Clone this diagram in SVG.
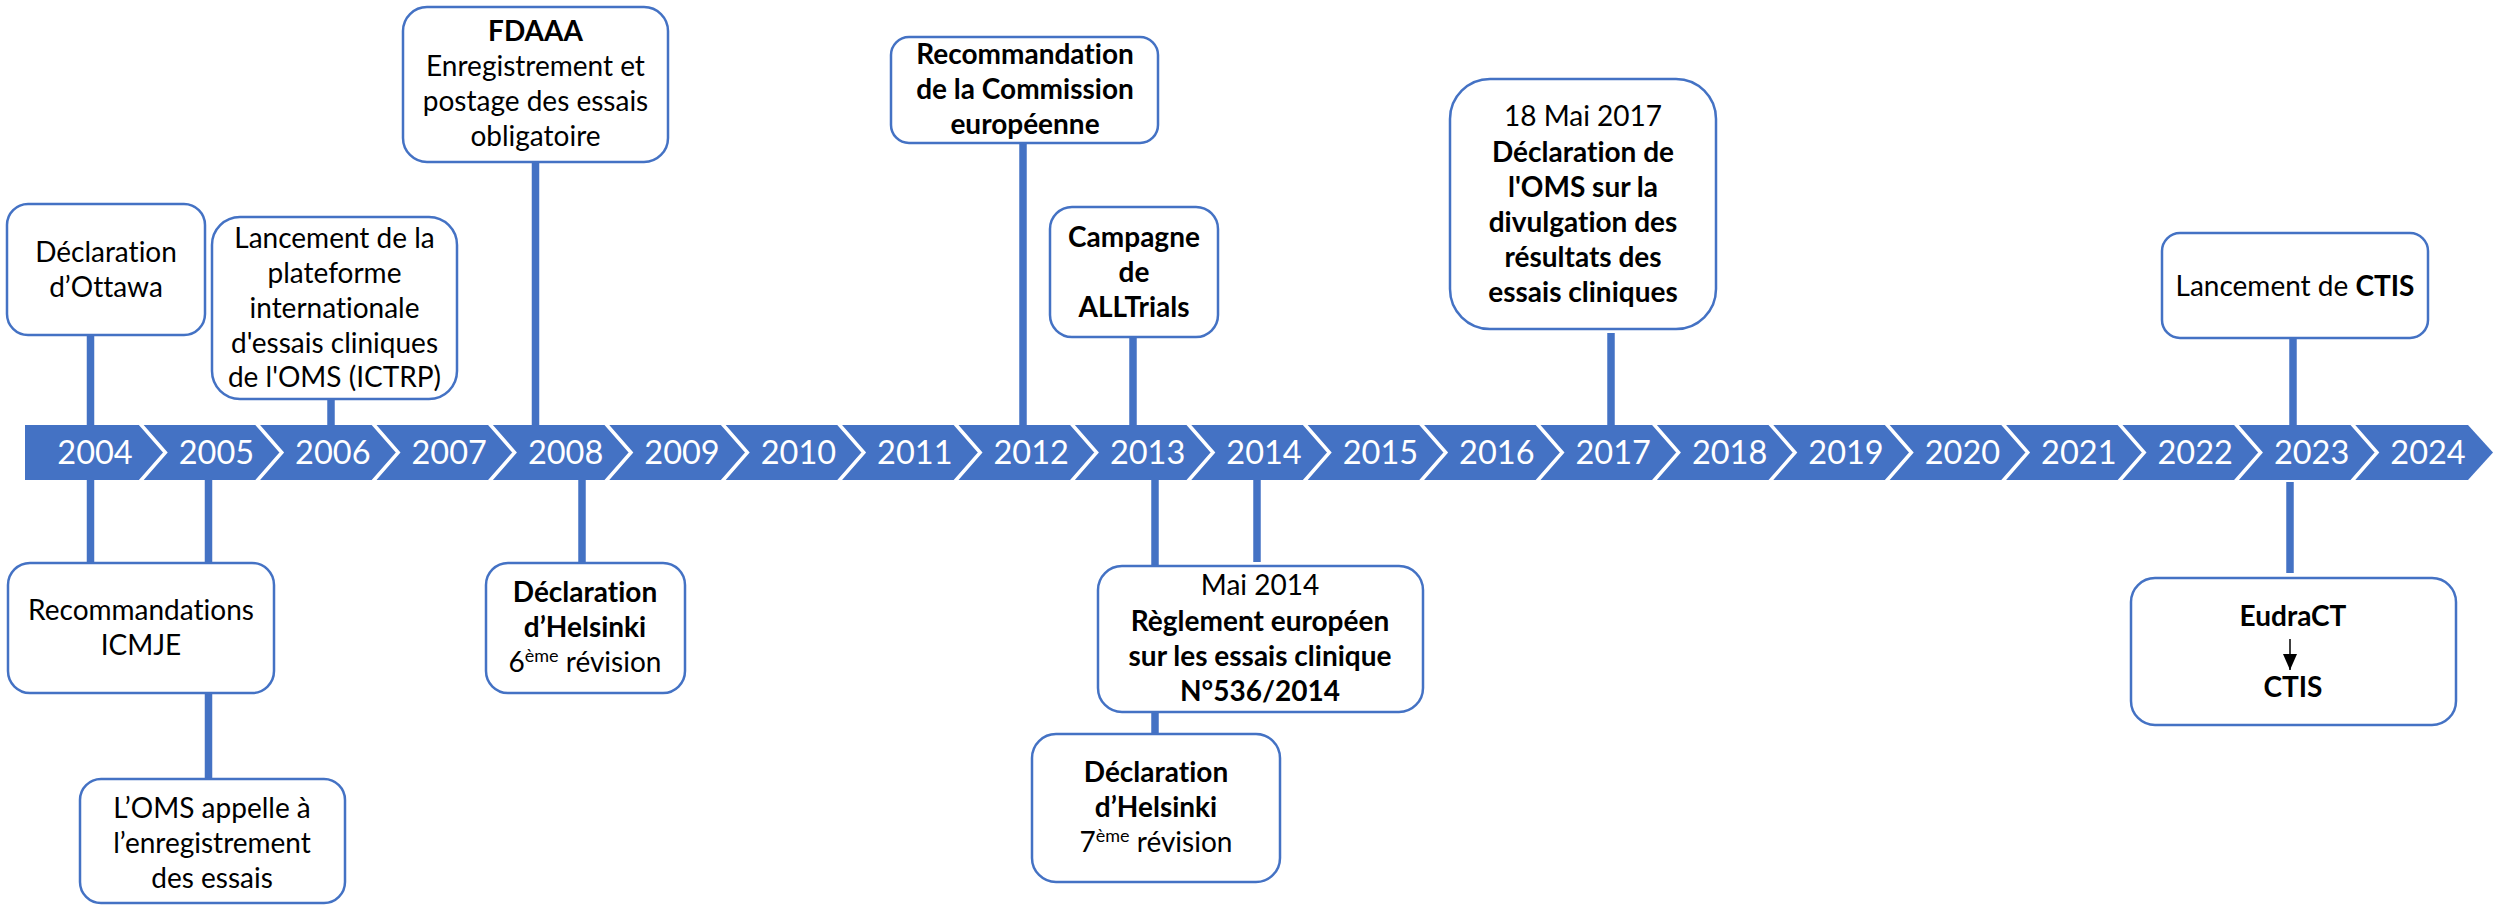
<svg xmlns="http://www.w3.org/2000/svg" width="2503" height="906" viewBox="0 0 2503 906">
<style>
.box{fill:#fff;stroke:#4472C4;stroke-width:2.5}
.conn line{stroke:#4472C4;stroke-width:7.5}
.band{fill:#4472C4}
.sep{fill:none;stroke:#fff;stroke-width:3.5;stroke-linejoin:miter}
.t{font-family:Lato,"Liberation Sans",sans-serif;font-size:28px;fill:#000;text-anchor:middle;font-variant-ligatures:none}
.b{font-weight:bold}
.sup{font-size:18px}
.yr{font-family:Lato,"Liberation Sans",sans-serif;font-size:32.5px;fill:#fff;text-anchor:middle}
</style>
<defs>
<marker id="ah" markerWidth="16" markerHeight="14" refX="16" refY="7" orient="auto" markerUnits="userSpaceOnUse" viewBox="0 0 16 14">
<path d="M0,0 L16,7 L0,14 Z" fill="#000"/>
</marker>
</defs>
<rect width="2503" height="906" fill="#fff"/>

<g id="connectors" class="conn">
<line x1="90.5" y1="335" x2="90.5" y2="426"/>
<line x1="331" y1="399" x2="331" y2="426"/>
<line x1="535.5" y1="162" x2="535.5" y2="426"/>
<line x1="1023" y1="143" x2="1023" y2="426"/>
<line x1="1133" y1="337" x2="1133" y2="426"/>
<line x1="1611" y1="333" x2="1611" y2="426"/>
<line x1="2293" y1="338" x2="2293" y2="426"/>
<line x1="90.5" y1="479" x2="90.5" y2="563"/>
<line x1="208.5" y1="479" x2="208.5" y2="779"/>
<line x1="582" y1="479" x2="582" y2="563"/>
<line x1="1155" y1="479" x2="1155" y2="734"/>
<line x1="1257" y1="479" x2="1257" y2="562"/>
<line x1="2290" y1="482" x2="2290" y2="573"/>
</g>

<g id="timeline">
<polygon class="band" points="25,425 2468,425 2493,452.5 2468,480 25,480"/>
<g id="separators">
<polyline class="sep" points="136.9,420 165.4,452.5 136.9,485"/>
<polyline class="sep" points="253.3,420 281.8,452.5 253.3,485"/>
<polyline class="sep" points="369.7,420 398.2,452.5 369.7,485"/>
<polyline class="sep" points="486.1,420 514.6,452.5 486.1,485"/>
<polyline class="sep" points="602.5,420 631,452.5 602.5,485"/>
<polyline class="sep" points="718.9,420 747.4,452.5 718.9,485"/>
<polyline class="sep" points="835.3,420 863.8,452.5 835.3,485"/>
<polyline class="sep" points="951.7,420 980.2,452.5 951.7,485"/>
<polyline class="sep" points="1068.1,420 1096.6,452.5 1068.1,485"/>
<polyline class="sep" points="1184.5,420 1213,452.5 1184.5,485"/>
<polyline class="sep" points="1300.9,420 1329.4,452.5 1300.9,485"/>
<polyline class="sep" points="1417.3,420 1445.8,452.5 1417.3,485"/>
<polyline class="sep" points="1533.7,420 1562.2,452.5 1533.7,485"/>
<polyline class="sep" points="1650.1,420 1678.6,452.5 1650.1,485"/>
<polyline class="sep" points="1766.5,420 1795,452.5 1766.5,485"/>
<polyline class="sep" points="1882.9,420 1911.4,452.5 1882.9,485"/>
<polyline class="sep" points="1999.3,420 2027.8,452.5 1999.3,485"/>
<polyline class="sep" points="2115.7,420 2144.2,452.5 2115.7,485"/>
<polyline class="sep" points="2232.1,420 2260.6,452.5 2232.1,485"/>
<polyline class="sep" points="2348.5,420 2377,452.5 2348.5,485"/>
</g>
<g id="years">
<text class="yr" x="95" y="464">2004</text>
<text class="yr" x="216.4" y="464">2005</text>
<text class="yr" x="332.8" y="464">2006</text>
<text class="yr" x="449.2" y="464">2007</text>
<text class="yr" x="565.6" y="464">2008</text>
<text class="yr" x="682" y="464">2009</text>
<text class="yr" x="798.4" y="464">2010</text>
<text class="yr" x="914.8" y="464">2011</text>
<text class="yr" x="1031.2" y="464">2012</text>
<text class="yr" x="1147.6" y="464">2013</text>
<text class="yr" x="1264" y="464">2014</text>
<text class="yr" x="1380.4" y="464">2015</text>
<text class="yr" x="1496.8" y="464">2016</text>
<text class="yr" x="1613.2" y="464">2017</text>
<text class="yr" x="1729.6" y="464">2018</text>
<text class="yr" x="1846" y="464">2019</text>
<text class="yr" x="1962.4" y="464">2020</text>
<text class="yr" x="2078.8" y="464">2021</text>
<text class="yr" x="2195.2" y="464">2022</text>
<text class="yr" x="2311.6" y="464">2023</text>
<text class="yr" x="2428" y="464">2024</text>
</g>
</g>

<g id="n-ottawa">
<rect class="box" x="7" y="204" width="198" height="131" rx="21"/>
<text class="t" x="106" y="262">Déclaration</text>
<text class="t" x="106" y="297">d’Ottawa</text>
</g>

<g id="n-ictrp">
<rect class="box" x="212" y="217" width="245" height="182" rx="28"/>
<text class="t" x="334.5" y="248">Lancement de la</text>
<text class="t" x="334.5" y="283">plateforme</text>
<text class="t" x="334.5" y="318">internationale</text>
<text class="t" x="334.5" y="353">d'essais cliniques</text>
<text class="t" x="334.5" y="387">de l'OMS (ICTRP)</text>
</g>

<g id="n-fdaaa">
<rect class="box" x="403" y="7" width="265" height="155" rx="24"/>
<text class="t b" x="535.5" y="41">FDAAA</text>
<text class="t" x="535.5" y="76">Enregistrement et</text>
<text class="t" x="535.5" y="111">postage des essais</text>
<text class="t" x="535.5" y="146">obligatoire</text>
</g>

<g id="n-commission">
<rect class="box" x="891" y="37" width="267" height="106" rx="18"/>
<text class="t b" x="1025" y="64">Recommandation</text>
<text class="t b" x="1025" y="99">de la Commission</text>
<text class="t b" x="1025" y="134">européenne</text>
</g>

<g id="n-alltrials">
<rect class="box" x="1050" y="207" width="168" height="130" rx="22"/>
<text class="t b" x="1134" y="247">Campagne</text>
<text class="t b" x="1134" y="282">de</text>
<text class="t b" x="1134" y="317">ALLTrials</text>
</g>

<g id="n-oms2017">
<rect class="box" x="1450" y="79" width="266" height="250" rx="40"/>
<text class="t" x="1583" y="126">18 Mai 2017</text>
<text class="t b" x="1583" y="161.7">Déclaration de</text>
<text class="t b" x="1583" y="196.7">l'OMS sur la</text>
<text class="t b" x="1583" y="231.7">divulgation des</text>
<text class="t b" x="1583" y="266.7">résultats des</text>
<text class="t b" x="1583" y="301.7">essais cliniques</text>
</g>

<g id="n-ctis-launch">
<rect class="box" x="2162" y="233" width="266" height="105" rx="18"/>
<text class="t" x="2295" y="296">Lancement de <tspan class="b">CTIS</tspan></text>
</g>

<g id="n-icmje">
<rect class="box" x="8" y="563" width="266" height="130" rx="22"/>
<text class="t" x="141" y="620">Recommandations</text>
<text class="t" x="141" y="655">ICMJE</text>
</g>

<g id="n-oms-appel">
<rect class="box" x="80" y="779" width="265" height="124" rx="21"/>
<text class="t" x="212" y="818">L’OMS appelle à</text>
<text class="t" x="212" y="853">l’enregistrement</text>
<text class="t" x="212" y="888">des essais</text>
</g>

<g id="n-helsinki6">
<rect class="box" x="486" y="563" width="199" height="130" rx="22"/>
<text class="t b" x="585" y="602">Déclaration</text>
<text class="t b" x="585" y="637">d’Helsinki</text>
<text class="t" x="585" y="672">6<tspan class="sup" dy="-10">ème</tspan><tspan dy="10"> révision</tspan></text>
</g>

<g id="n-reglement">
<rect class="box" x="1098" y="566" width="325" height="146" rx="24"/>
<text class="t" x="1260" y="595">Mai 2014</text>
<text class="t b" x="1260" y="631">Règlement européen</text>
<text class="t b" x="1260" y="666">sur les essais clinique</text>
<text class="t b" x="1260" y="701">N°536/2014</text>
</g>

<g id="n-helsinki7">
<rect class="box" x="1032" y="734" width="248" height="148" rx="24"/>
<text class="t b" x="1156" y="782">Déclaration</text>
<text class="t b" x="1156" y="817">d’Helsinki</text>
<text class="t" x="1156" y="852">7<tspan class="sup" dy="-10">ème</tspan><tspan dy="10"> révision</tspan></text>
</g>

<g id="n-eudract">
<rect class="box" x="2131" y="578" width="325" height="147" rx="24"/>
<text class="t b" x="2293" y="626">EudraCT</text>
<line x1="2290" y1="639" x2="2290" y2="670" stroke="#000" stroke-width="1.5" marker-end="url(#ah)"/>
<text class="t b" x="2293" y="697">CTIS</text>
</g>
</svg>
